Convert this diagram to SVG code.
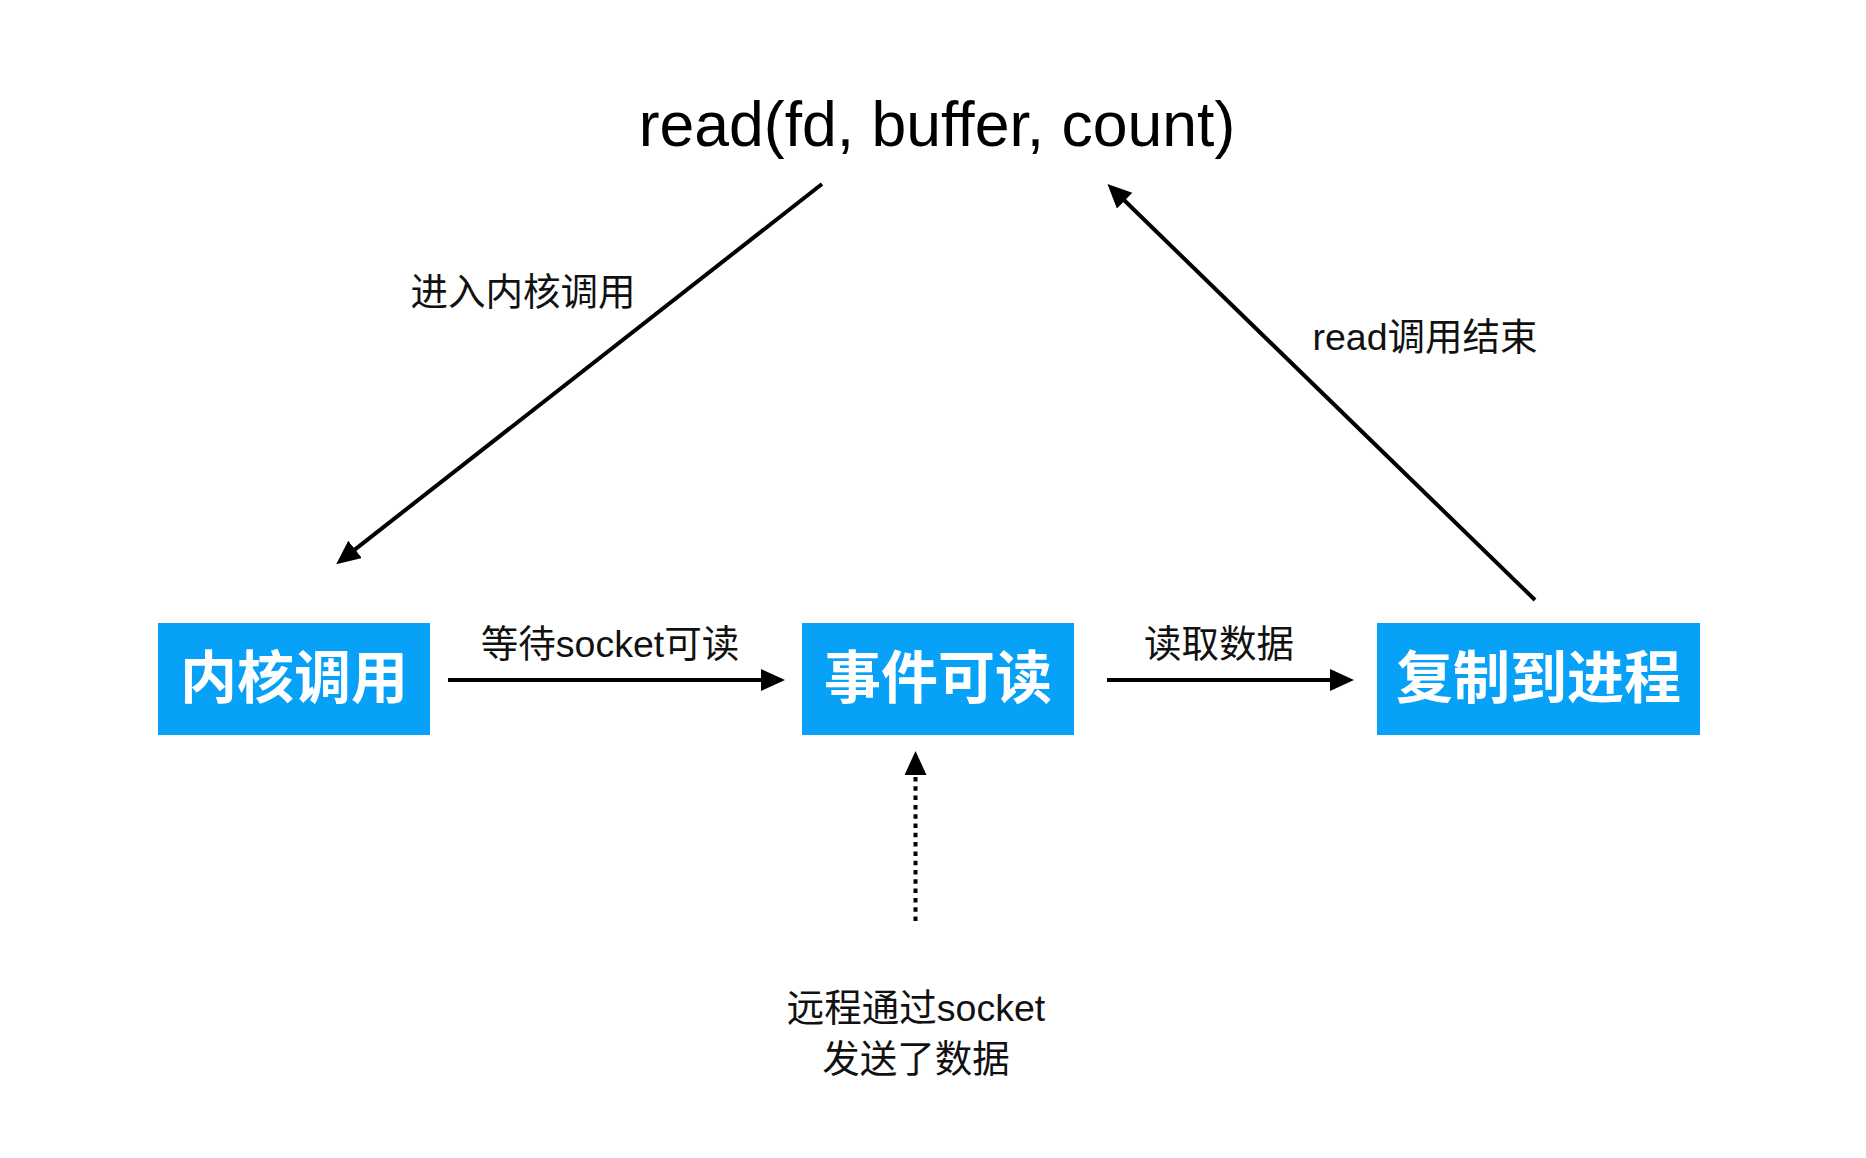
<svg xmlns="http://www.w3.org/2000/svg" width="1866" height="1158" viewBox="0 0 1866 1158">
<style>
.node rect{fill:#07a1f8}
.node text{fill:#ffffff;font-family:"Noto Sans CJK SC","Liberation Sans",sans-serif;font-weight:bold;font-size:57px;text-anchor:middle}
.lbl{fill:#111;font-family:"Liberation Sans","Noto Sans CJK SC",sans-serif;font-size:37.5px;text-anchor:middle}
.edge{stroke:#000;stroke-width:4;fill:none}
</style>
<defs>
<marker id="ah" markerUnits="userSpaceOnUse" markerWidth="26" markerHeight="24" refX="2" refY="11" orient="auto">
<path d="M0,0 L24,11 L0,22 z" fill="#000"/>
</marker>
</defs>
<rect width="1866" height="1158" fill="#ffffff"/>
<g id="title">
<text x="937" y="146" style="font-family:'Liberation Sans',sans-serif;font-size:62.5px;fill:#000;text-anchor:middle">read(fd, buffer, count)</text>
</g>
<g id="node-kernel" class="node">
<rect x="158" y="623" width="272" height="112"/>
<text x="294" y="698">内核调用</text>
</g>
<g id="node-readable" class="node">
<rect x="802" y="623" width="272" height="112"/>
<text x="938" y="698">事件可读</text>
</g>
<g id="node-copy" class="node">
<rect x="1377" y="623" width="323" height="112"/>
<text x="1538.5" y="698">复制到进程</text>
</g>
<g id="connectors">
<line class="edge" x1="822" y1="184" x2="353.5" y2="550.6" marker-end="url(#ah)"/>
<line class="edge" x1="1535" y1="600" x2="1123.2" y2="199.3" marker-end="url(#ah)"/>
<line class="edge" x1="448" y1="680" x2="763" y2="680" marker-end="url(#ah)"/>
<line class="edge" x1="1107" y1="680" x2="1332" y2="680" marker-end="url(#ah)"/>
<line class="edge" x1="915.5" y1="921" x2="915.5" y2="773" stroke-dasharray="4.5 4.8" marker-end="url(#ah)"/>
</g>
<g id="labels">
<text class="lbl" x="523" y="305">进入内核调用</text>
<text class="lbl" x="1425" y="350">read调用结束</text>
<text class="lbl" x="610" y="657">等待socket可读</text>
<text class="lbl" x="1219" y="657">读取数据</text>
<text class="lbl" x="916" y="1021">远程通过socket</text>
<text class="lbl" x="916" y="1072">发送了数据</text>
</g>
</svg>
